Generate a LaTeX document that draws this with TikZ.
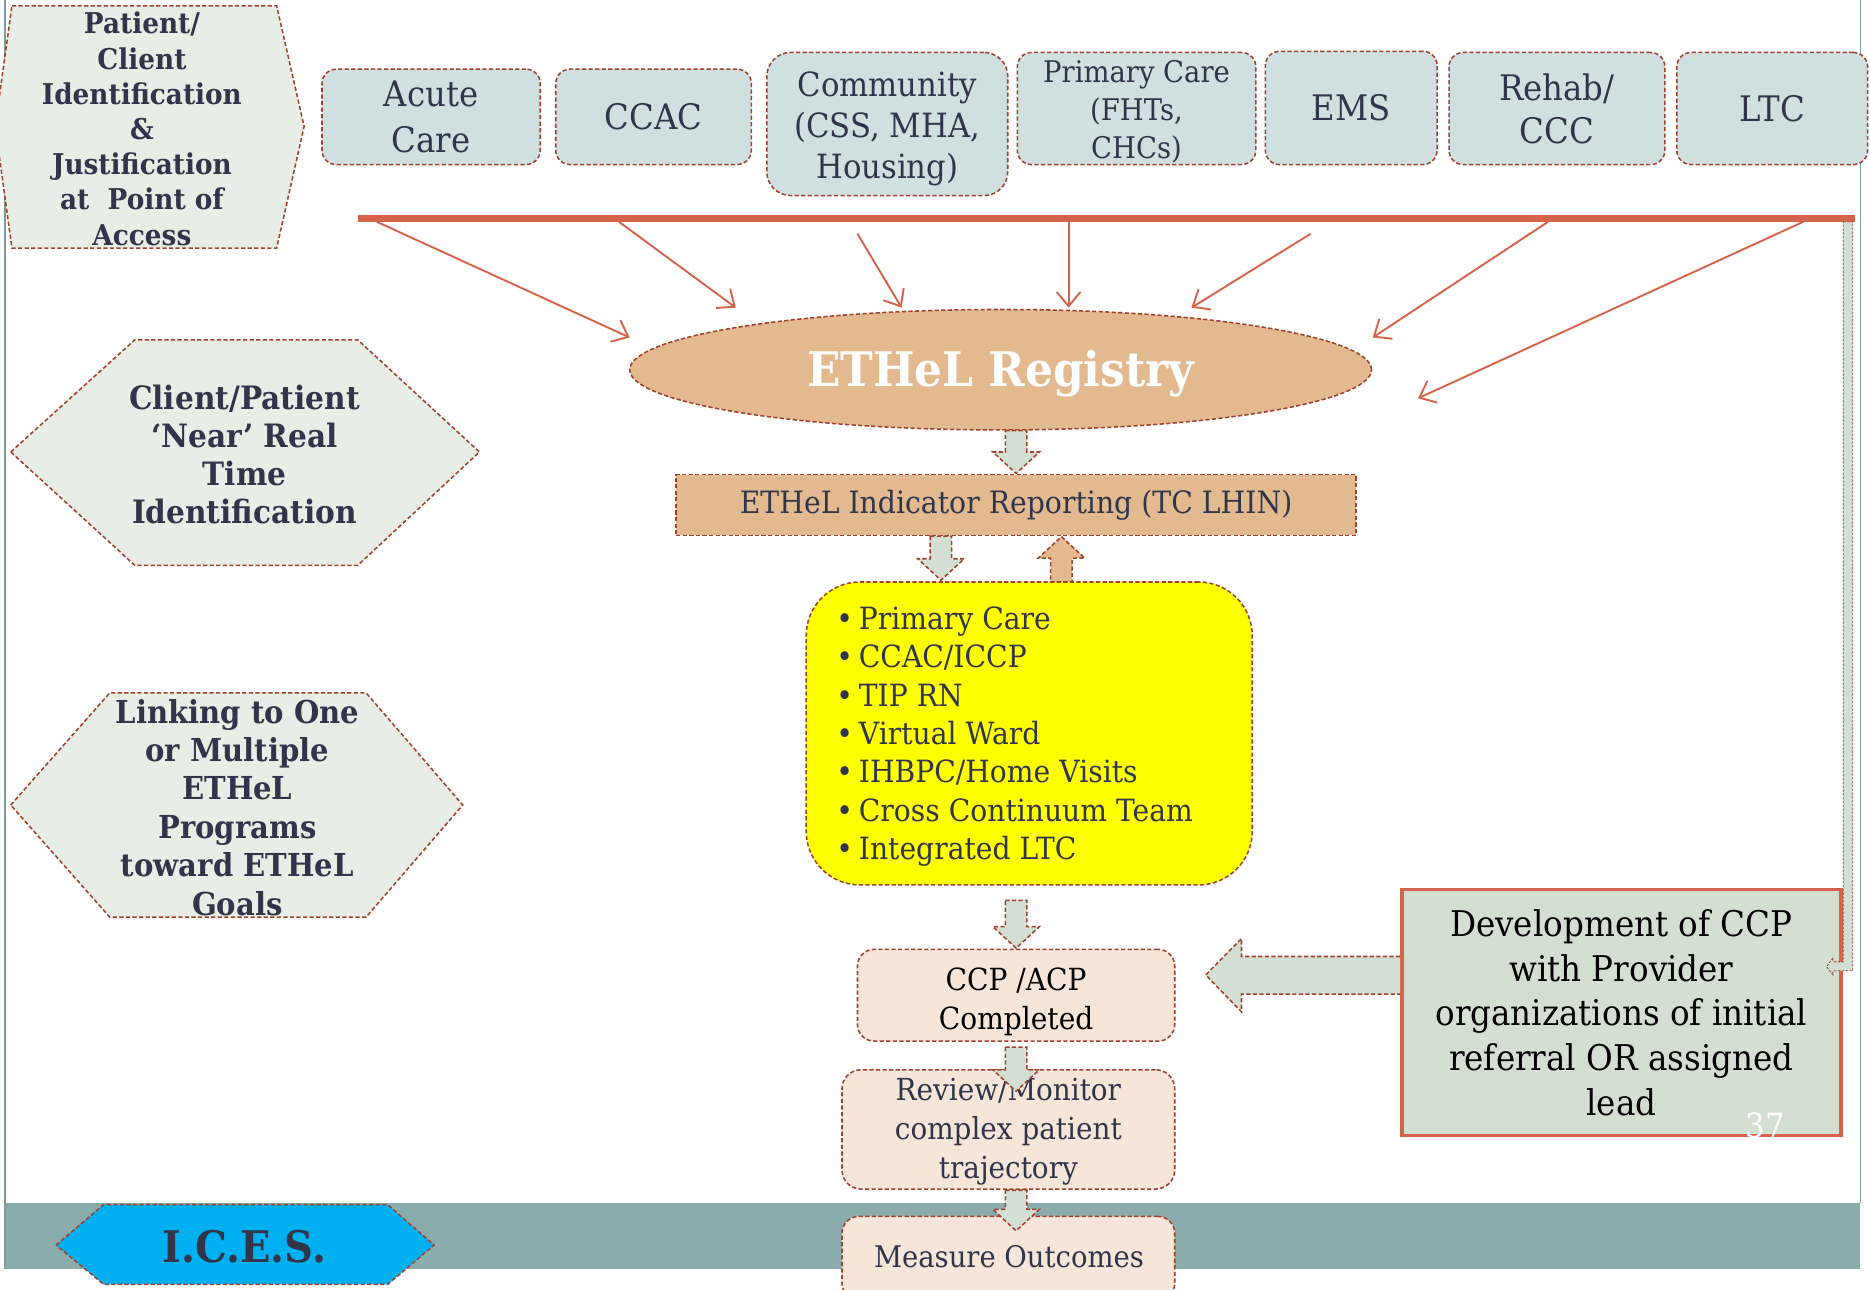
\documentclass[tikz,border=0pt]{standalone}
\usepackage{fontspec}
\setmainfont{DejaVu Serif}[FakeStretch=0.92]
\usetikzlibrary{arrows.meta,shapes.geometric,calc}
\definecolor{txt}{HTML}{30354A}
\definecolor{brd}{HTML}{A0412D}
\definecolor{hexc}{HTML}{E8EDE6}
\definecolor{boxc}{HTML}{D0DFE0}
\definecolor{redl}{HTML}{D4634A}
\definecolor{tanc}{HTML}{E3BA8F}
\definecolor{agreen}{HTML}{D3DFD2}
\definecolor{peach}{HTML}{F6E6DA}
\definecolor{bandc}{HTML}{8AACAC}
\definecolor{icescyan}{HTML}{00B0F0}
\definecolor{devc}{HTML}{D3DFD0}
\definecolor{framec}{HTML}{7E9C9C}
\definecolor{yel}{HTML}{FFFF00}
\newcommand\dnarr[4]{% x, ytop, ybot, fill
  \draw[dsh,fill=#4] (#1-9,#2) -- (#1+9,#2) -- (#1+9,#3-18) -- (#1+19.5,#3-18) -- (#1,#3) -- (#1-19.5,#3-18) -- (#1-9,#3-18) -- cycle;}
\newcommand\uparr[4]{% x, ytip, ybottom, fill
  \draw[dsh,fill=#4] (#1-9,#3) -- (#1+9,#3) -- (#1+9,#2+18) -- (#1+19.5,#2+18) -- (#1,#2) -- (#1-19.5,#2+18) -- (#1-9,#2+18) -- cycle;}
\begin{document}
\begin{tikzpicture}[x=1pt,y=-1pt,
  dsh/.style={draw=brd,line width=1.3pt,dash pattern=on 3.5pt off 2pt},
  tb/.style={dsh,fill=boxc,rounded corners=12pt,text=txt,align=center,inner sep=0pt},
  hexshape/.style={dsh,fill=hexc},
  hextext/.style={text=txt,align=center,inner sep=0pt},
  feed/.style={draw=redl,line width=1.6pt,-{Straight Barb[length=12pt,width=20pt]}},
  pch/.style={dsh,fill=peach,rounded corners=14pt,align=center,inner sep=0pt,text=txt},
]
\useasboundingbox (0,0) rectangle (1568,1081);
% frame and band
\fill[bandc] (4,1009) rectangle (1560,1064);
\draw[framec,line width=1.5pt] (4,0) -- (4,1064);
\draw[framec,line width=1.5pt] (1560,0) -- (1560,1009);

% left hexagons
\draw[hexshape] (10,5) -- (232,5) -- (255,106) -- (232,208) -- (10,208) -- (-4,106) -- cycle;
\node[hextext,font=\bfseries\fontsize{24}{29.5}\selectfont] (hexa) at (119,108)
  {Patient/\\Client\\Identification\\\&\\Justification\\at~ Point of\\Access};
\draw[hexshape] (9,379) -- (113,285) -- (300,285) -- (402,379) -- (300,474) -- (113,474) -- cycle;
\node[hextext,font=\bfseries\fontsize{27}{32}\selectfont] (hexb) at (205,381)
  {Client/Patient\\‘Near’ Real\\Time\\Identification};
\draw[hexshape] (9,675) -- (92,581) -- (307,581) -- (388,675) -- (307,769) -- (92,769) -- cycle;
\node[hextext,font=\bfseries\fontsize{26.5}{32.2}\selectfont] (hexc) at (199,677)
  {Linking to One\\or Multiple\\ETHeL\\Programs\\toward ETHeL\\Goals};

% top boxes
\node[tb,minimum width=183pt,minimum height=80pt,font=\fontsize{29.5}{38}\selectfont] (acute) at (361.5,98) {Acute\\Care};
\node[tb,minimum width=164pt,minimum height=80pt,font=\fontsize{29.5}{38}\selectfont] (ccac) at (548,98) {CCAC};
\node[tb,rounded corners=20pt,minimum width=202pt,minimum height=120pt,font=\fontsize{28}{34.5}\selectfont] (comm) at (744,104) {};
\node[text=txt,align=center,inner sep=0pt,font=\fontsize{28}{34.5}\selectfont] (commt) at (744,108) {Community\\(CSS, MHA,\\Housing)};
\node[tb,minimum width=200pt,minimum height=94pt,font=\fontsize{25}{32}\selectfont] (prim) at (953,91) {};
\node[text=txt,align=center,inner sep=0pt,font=\fontsize{25}{32}\selectfont] (primt) at (953,93.5) {Primary Care\\(FHTs,\\CHCs)};
\node[tb,minimum width=144pt,minimum height=95pt,font=\fontsize{29.5}{36}\selectfont] (ems) at (1133,90.5) {EMS};
\node[tb,minimum width=181pt,minimum height=94pt,font=\fontsize{29.5}{36}\selectfont] (rehab) at (1305.5,91) {Rehab/\\CCC};
\node[tb,minimum width=160pt,minimum height=94pt,font=\fontsize{29.5}{36}\selectfont] (ltc) at (1486,91) {LTC};

% red bar
\coordinate (barL) at (300,183);
\coordinate (barR) at (1555,183);
\draw[redl,line width=6pt] (barL) -- (barR);

% registry
\node[ellipse,dsh,fill=tanc,minimum width=622pt,minimum height=101pt,inner sep=0pt] (reg) at (839,310) {};
\node[text=white,font=\bfseries\fontsize{40}{42}\selectfont,inner sep=0pt] (regt) at (839,313) {ETHeL Registry};

% feeder arrows
\coordinate (f1) at (316,186); \coordinate (t1) at (528,283);
\coordinate (f2) at (519,186); \coordinate (t2) at (617,258);
\coordinate (f3) at (719,196); \coordinate (t3) at (756,258);
\coordinate (f4) at (896,186); \coordinate (t4) at (896,258);
\coordinate (f5) at (1099,196); \coordinate (t5) at (999,258);
\coordinate (f6) at (1298,186); \coordinate (t6) at (1151,283);
\coordinate (f7) at (1512,186); \coordinate (t7) at (1189,334);
\foreach \i in {1,...,7} {\draw[feed] (f\i) -- (t\i);}

% indicator
\node[dsh,fill=tanc,minimum width=570pt,minimum height=51pt,inner sep=0pt,text=txt,
  font=\fontsize{25.8}{28}\selectfont] (ind) at (852,423.5) {ETHeL Indicator Reporting (TC LHIN)};
\dnarr{852}{361}{397}{agreen}
\dnarr{789}{449.5}{486.5}{agreen}
\uparr{890}{450}{488}{tanc}

% yellow programs box
\node[dsh,fill=yel,rounded corners=45pt,minimum width=374pt,minimum height=254pt,inner sep=0pt] (prog) at (863,615) {};
\node[anchor=west,text=txt,align=left,inner sep=0pt,font=\fontsize{25.7}{32.2}\selectfont] (list) at (701,617.5)
 {\makebox[19pt][l]{•}Primary Care\\\makebox[19pt][l]{•}CCAC/ICCP\\\makebox[19pt][l]{•}TIP RN\\\makebox[19pt][l]{•}Virtual Ward\\\makebox[19pt][l]{•}IHBPC/Home Visits\\\makebox[19pt][l]{•}Cross Continuum Team\\\makebox[19pt][l]{•}Integrated LTC};

% lower chain
\dnarr{852}{755}{795}{agreen}
\node[pch,minimum width=266pt,minimum height=77pt] (ccp) at (852,834.5) {};
\node[text=black,align=center,inner sep=0pt,font=\fontsize{25.6}{32}\selectfont] (ccpt) at (852,840) {CCP /ACP\\Completed};
\node[pch,rounded corners=16pt,minimum width=279pt,minimum height=100pt,font=\fontsize{25.4}{32.5}\selectfont] (rev) at (845.5,947) {};
\node[text=txt,align=center,inner sep=0pt,font=\fontsize{25.4}{32.5}\selectfont] (revt) at (845.5,949) {Review/Monitor\\complex patient\\trajectory};
\dnarr{852}{878}{915}{agreen}
\node[pch,minimum width=279pt,minimum height=70pt] (meas) at (845.5,1055) {};
\node[text=txt,font=\fontsize{25}{30}\selectfont,inner sep=0pt] (meast) at (846,1054) {Measure Outcomes};
\dnarr{852}{998}{1032}{agreen}

% development box
\node[fill=devc,draw=redl,line width=3pt,minimum width=368pt,minimum height=206pt,inner sep=0pt,
  align=center,font=\fontsize{29.7}{37.5}\selectfont] (dev) at (1359.5,849) {Development of CCP\\with Provider\\organizations of initial\\referral OR assigned\\lead};
\node[text=white,font=\fontsize{28}{28}\selectfont,inner sep=0pt] (pg) at (1480,944) {37};
\draw[dsh,fill=agreen] (dev.west |- 0,802) -- (1041,802) -- (1041,787) -- (1011,817.5) -- (1041,848.5) -- (1041,833.5) -- (dev.west |- 0,833.5);
% feedback loop
\draw[draw=brd,line width=0.7pt,dash pattern=on 2pt off 1.2pt,fill=agreen]
  (1545.5,186) -- (1553.5,186) -- (1553.5,814) -- (1537,814) -- (1537,817.5) -- (1531.5,810.5) -- (1537,803) -- (1537,806.5) -- (1545.5,806.5) -- cycle;

% ICES
\draw[dsh,fill=icescyan] (47,1044) -- (87,1010) -- (325,1010) -- (364,1044) -- (325,1077) -- (87,1077) -- cycle;
\node[text=txt,font=\bfseries\fontsize{36.5}{38}\selectfont,inner sep=0pt] (ices) at (205,1045) {I.C.E.S.};
\end{tikzpicture}
\end{document}
